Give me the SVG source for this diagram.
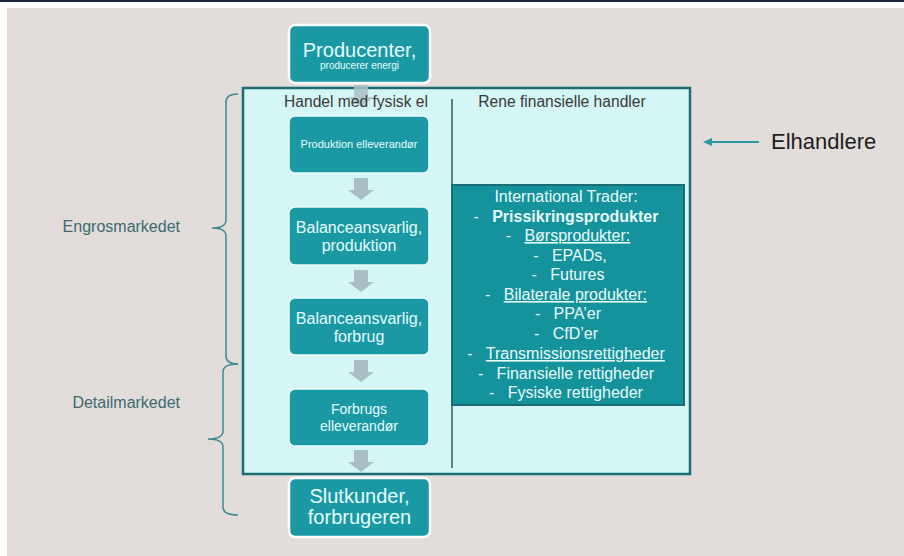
<svg xmlns="http://www.w3.org/2000/svg" width="904" height="556" viewBox="0 0 904 556">
<style>
.box{fill:#1a99a5;stroke:#e9fbfb;stroke-width:1.5}
.obox{fill:#1a99a5;stroke:#ffffff;stroke-width:2.5}
.wt{fill:#e6fdfd;font-family:"Liberation Sans",Arial,sans-serif;text-anchor:middle}
.hd{fill:#3a3a3a;font-family:"Liberation Sans",Arial,sans-serif;font-size:15.6px;text-anchor:middle}
.lbl{fill:#3f6a6c;font-family:"Liberation Sans",Arial,sans-serif;font-size:16px;text-anchor:end}
.tr{fill:#e9fbfb;font-family:"Liberation Sans",Arial,sans-serif;font-size:16px;text-anchor:middle}
.u{text-decoration:underline}
.brace{fill:none;stroke:#3b8a90;stroke-width:1.5}
.arr{fill:#a9bfc4}
</style>
<defs>
<path id="dn" d="M-7,0 H7 V12 H13 L0,22 L-13,12 H-7 Z"/>
<marker id="ah" markerWidth="9" markerHeight="8" refX="7" refY="4" orient="auto" markerUnits="userSpaceOnUse">
<path d="M0,0 L9,4 L0,8 Z" fill="#2a9aa5"/>
</marker>
</defs>
<rect x="0" y="0" width="904" height="556" fill="#ffffff"/>
<rect x="0" y="0" width="904" height="2" fill="#1b2143"/>
<rect x="7" y="8" width="897" height="548" fill="#e2dcdb"/>

<g id="elhandlere-box">
<rect x="243" y="88" width="447" height="386" fill="#d4f6f4" stroke="#1d6c74" stroke-width="2.5"/>
<line x1="452" y1="99" x2="452" y2="468" stroke="#2d5d62" stroke-width="1.5"/>
</g>

<g id="connectors">
<use href="#dn" class="arr" transform="translate(361,85)" opacity="0.85"/>
<use href="#dn" class="arr" transform="translate(361,178)"/>
<use href="#dn" class="arr" transform="translate(361,270)"/>
<use href="#dn" class="arr" transform="translate(361,360)"/>
<use href="#dn" class="arr" transform="translate(361,450)"/>
<line x1="759" y1="142" x2="705" y2="142" stroke="#2a9aa5" stroke-width="1.8" marker-end="url(#ah)"/>
</g>

<g id="headers">
<text class="hd" x="356" y="107">Handel med fysisk el</text>
<text class="hd" x="562" y="107">Rene finansielle handler</text>
</g>

<g id="producenter">
<rect class="obox" x="289" y="25" width="141" height="58" rx="6"/>
<text class="wt" x="359.5" y="57" font-size="20">Producenter,</text>
<text class="wt" x="359.5" y="69" font-size="10">producerer energi</text>
</g>

<g id="produktion-elleverandor">
<rect class="box" x="289" y="116" width="140" height="57" rx="6"/>
<text class="wt" x="359" y="148" font-size="11">Produktion elleverandør</text>
</g>

<g id="balance-produktion">
<rect class="box" x="289" y="207" width="140" height="58" rx="6"/>
<text class="wt" x="359" y="233" font-size="16">Balanceansvarlig,</text>
<text class="wt" x="359" y="251" font-size="16">produktion</text>
</g>

<g id="balance-forbrug">
<rect class="box" x="289" y="298" width="140" height="57" rx="6"/>
<text class="wt" x="359" y="324" font-size="16">Balanceansvarlig,</text>
<text class="wt" x="359" y="342" font-size="16">forbrug</text>
</g>

<g id="forbrugs-elleverandor">
<rect class="box" x="289" y="389" width="140" height="57" rx="6"/>
<text class="wt" x="359" y="414" font-size="14">Forbrugs</text>
<text class="wt" x="359" y="431" font-size="14">elleverandør</text>
</g>

<g id="slutkunder">
<rect class="obox" x="289" y="478" width="141" height="59" rx="6"/>
<text class="wt" x="359.5" y="503" font-size="20">Slutkunder,</text>
<text class="wt" x="359.5" y="524" font-size="20">forbrugeren</text>
</g>

<g id="international-trader">
<rect x="452" y="185" width="232" height="220" fill="#14939d" stroke="#1b6b73" stroke-width="2"/>
<text class="tr" x="566" y="202" font-size="15">International Trader:</text>
<text class="tr" x="566" y="222">-&#160;&#160;&#160;<tspan font-weight="bold">Prissikringsprodukter</tspan></text>
<text class="tr" x="568" y="241">-&#160;&#160;&#160;<tspan class="u">Børsprodukter:</tspan></text>
<text class="tr" x="570" y="261">-&#160;&#160;&#160;EPADs,</text>
<text class="tr" x="568" y="280">-&#160;&#160;&#160;Futures</text>
<text class="tr" x="566" y="300">-&#160;&#160;&#160;<tspan class="u">Bilaterale produkter:</tspan></text>
<text class="tr" x="568" y="319">-&#160;&#160;&#160;PPA’er</text>
<text class="tr" x="566" y="339">-&#160;&#160;&#160;CfD’er</text>
<text class="tr" x="566" y="359">-&#160;&#160;&#160;<tspan class="u">Transmissionsrettigheder</tspan></text>
<text class="tr" x="566" y="379">-&#160;&#160;&#160;Finansielle rettigheder</text>
<text class="tr" x="566" y="398">-&#160;&#160;&#160;Fysiske rettigheder</text>
</g>

<g id="elhandlere-label">
<text x="771" y="149" font-family="'Liberation Sans',Arial,sans-serif" font-size="22" fill="#1e1e1e">Elhandlere</text>
</g>

<g id="engrosmarkedet">
<path class="brace" d="M238,94 Q226,94 226,102 V220 Q226,228 212,228 Q226,228 226,236 V356 Q226,364 238,364"/>
<text class="lbl" x="180" y="232">Engrosmarkedet</text>
</g>

<g id="detailmarkedet">
<path class="brace" d="M238,364 Q223,364 223,372 V431 Q223,439 208,439 Q223,439 223,447 V507 Q223,515 238,515"/>
<text class="lbl" x="180" y="408">Detailmarkedet</text>
</g>
</svg>
